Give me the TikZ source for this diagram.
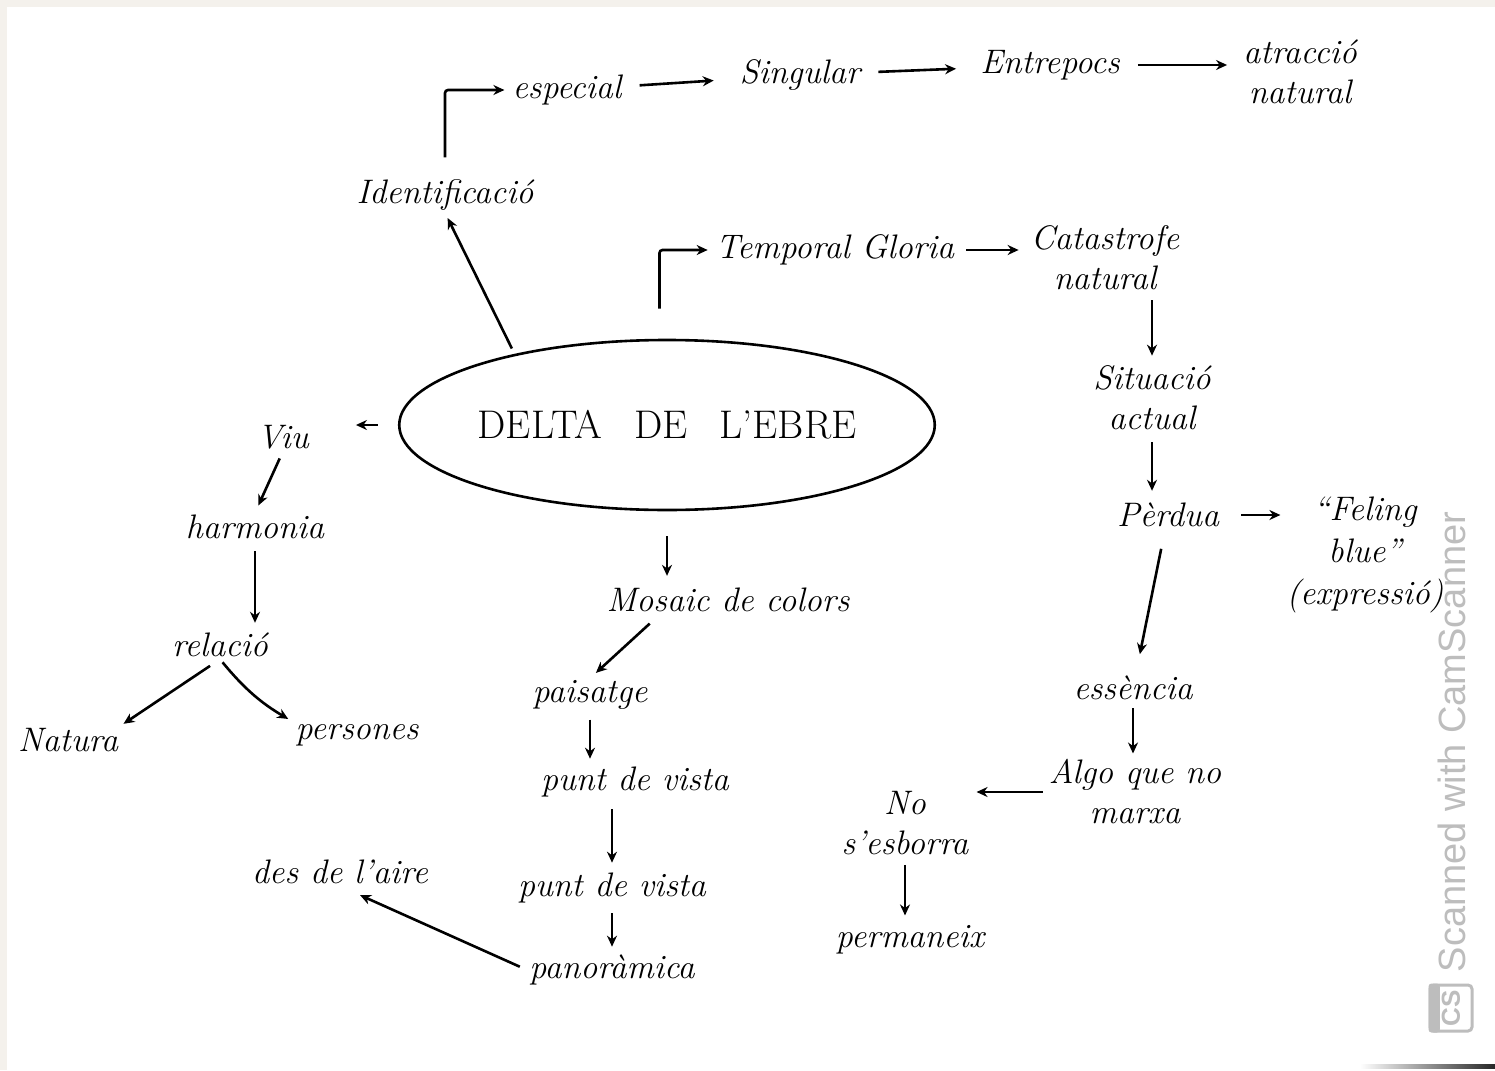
\documentclass[tikz,border=0pt]{standalone}
\usepackage{fontspec}
\setsansfont{Liberation Sans}
\usetikzlibrary{arrows.meta,calc,shapes.geometric}
\definecolor{paper}{HTML}{F4F1EC}
\definecolor{wm}{HTML}{BDBDBD}
\begin{document}
\begin{tikzpicture}[x=1pt,y=-1pt,
  txt/.style={inner sep=2pt, font=\fontsize{34}{40}\selectfont\itshape, align=center},
  arr/.style={line width=2.6pt, -{Stealth[length=11pt,width=10pt]}, shorten <=6pt, shorten >=6pt},
  hub/.style={draw, ellipse, line width=2.6pt, minimum width=512pt, minimum height=170pt, inner sep=0pt,
              font=\fontsize{40}{44}\selectfont}]
\useasboundingbox (0,0) rectangle (1495,1070);
\fill[paper] (0,0) rectangle (1495,1070);
\fill[white] (7,7) rectangle (1495,1070);
\shade[left color=white, right color=black!85] (1360,1064) rectangle (1495,1068);

% centre
\node[hub] (delta) at (667,425) {DELTA\hspace{0.8em}DE\hspace{0.8em}L'EBRE};

% top-left branch
\node[txt] (ident) at (445,195) {Identificació};
\node[txt] (esp) at (567,90) {especial};
\node[txt] (sing) at (800,75) {Singular};
\node[txt] (entre) at (1050,65) {Entrepocs};
\node[txt] (atrac) at (1300,72) {atracció\\natural};

% top-right branch
\node[txt] (temp) at (835,250) {Temporal Gloria};
\node[txt] (cat) at (1105,258) {Catastrofe\\natural};
\node[txt] (sit) at (1152,398) {Situació\\actual};
\node[txt] (perd) at (1168,515) {Pèrdua};
\node[txt, font=\fontsize{34}{42}\selectfont\itshape] (feel) at (1365,555) {``Feling\\blue''\\(expressió)};
\node[txt] (ess) at (1133,688) {essència};
\node[txt] (algo) at (1135,792) {Algo que no\\marxa};
\node[txt] (nos) at (905,823) {No\\s'esborra};
\node[txt] (perm) at (910,940) {permaneix};

% left branch
\node[txt] (viu) at (283,437) {Viu};
\node[txt] (harm) at (255,527) {harmonia};
\node[txt] (rel) at (220,645) {relació};
\node[txt] (nat) at (68,740) {Natura};
\node[txt] (pers) at (357,735) {persones};

% bottom branch
\node[txt] (mos) at (728,600) {Mosaic de colors};
\node[txt] (pais) at (590,695) {paisatge};
\node[txt] (pv1) at (635,782) {punt de vista};
\node[txt] (pv2) at (612,888) {punt de vista};
\node[txt] (pan) at (612,970) {panoràmica};
\node[txt] (aire) at (340,872) {des de l'aire};

% connectors
\draw[arr] (delta.155) -- (ident.south);
\draw[arr, shorten <=20pt, rounded corners=3pt] (ident.north) |- (esp.west);
\draw[arr, shorten <=16pt, shorten >=24pt] (esp) -- (sing);
\draw[arr, shorten <=16pt, shorten >=22pt] (sing) -- (entre);
\draw[arr, shorten <=16pt, shorten >=14pt] (entre) -- (atrac.north west |- entre);
\draw[arr, shorten <=30pt, rounded corners=3pt] (delta.95) |- (temp.west);
\draw[arr, shorten <=10pt, shorten >=10pt] (temp.east) -- (temp.east -| cat.west);
\draw[arr, shorten <=8pt, shorten >=8pt] (cat.south -| sit) -- (sit.north);
\draw[arr, shorten <=10pt, shorten >=10pt] (sit.south) -- (sit.south |- perd.north);
\draw[arr, shorten <=20pt, shorten >=4pt] (perd.east) -- (perd.east -| feel.west);
\draw[arr, shorten <=20pt, shorten >=20pt] (perd) -- (ess);
\draw[arr, shorten <=6pt, shorten >=4pt] (ess.south) -- (ess.south |- algo.north);
\draw[arr, shorten <=4pt, shorten >=6pt] (algo.west) -- (algo.west -| nos.east);
\draw[arr, shorten <=8pt, shorten >=8pt] (nos.south) -- (perm.north -| nos.south);
\draw[arr, shorten <=20pt, shorten >=45pt] (delta.west) -- (delta.west -| viu.east);
\draw[arr, shorten <=8pt, shorten >=8pt] (viu.south) -- (harm.north);
\draw[arr, shorten <=10pt, shorten >=8pt] (harm.south) -- (harm.south |- rel.north);
\draw[arr, shorten <=12pt, shorten >=4pt] (rel.south) -- (nat.north east);
\draw[arr, shorten <=4pt, shorten >=6pt] (rel.south) to[bend right=10] (pers.north west);
\draw[arr, shorten <=25pt, shorten >=10pt] (delta.south) -- (delta.south |- mos.north);
\draw[arr, shorten <=14pt, shorten >=8pt] ($(mos.south)!0.55!(mos.south west)$) -- (pais.north);
\draw[arr, shorten <=8pt, shorten >=6pt] (pais.south) -- (pais.south |- pv1.north);
\draw[arr, shorten <=10pt, shorten >=8pt] (pv2.north |- pv1.south) -- (pv2.north);
\draw[arr, shorten <=8pt, shorten >=6pt] (pan.north |- pv2.south) -- (pan.north);
\draw[arr, shorten <=8pt, shorten >=22pt] (pan.west) -- (aire.south);

% scanner watermark
\node[rotate=90, text=wm, font=\fontsize{38}{40}\selectfont\sffamily, inner sep=0pt] (wmark) at (1452,742) {Scanned with CamScanner};
\node[rotate=90, draw=wm, line width=3pt, rounded corners=4pt, minimum width=46pt, minimum height=42pt,
      text=wm, font=\fontsize{26}{28}\selectfont\sffamily\bfseries] (logo) at (1451,1008) {CS};
\fill[wm, rounded corners=3pt] (logo.north west) rectangle ($(logo.north east)!0.25!(logo.south east)$);
\end{tikzpicture}
\end{document}
